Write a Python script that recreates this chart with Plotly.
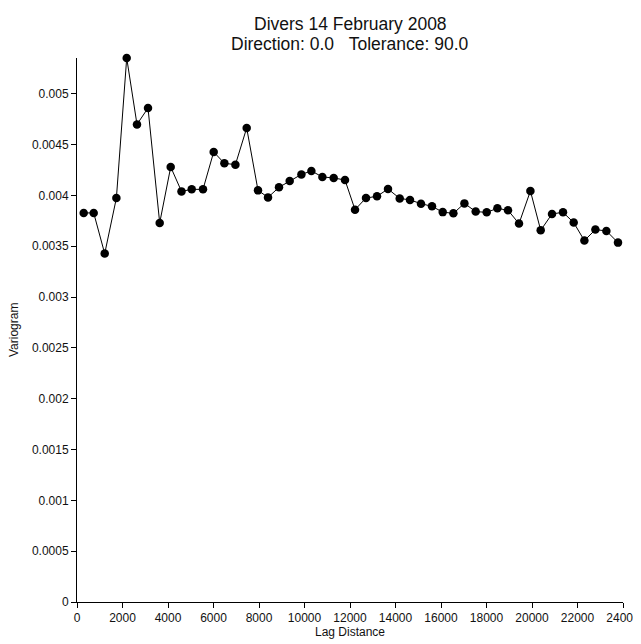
import plotly.graph_objects as go

lag = [294, 734, 1218, 1732, 2185, 2637, 3121, 3635, 4119, 4593,
       5042, 5538, 6009, 6479, 6963, 7459, 7956, 8396, 8879, 9349,
       9864, 10303, 10787, 11284, 11780, 12220, 12703, 13187, 13670, 14185,
       14637, 15121, 15604, 16075, 16545, 17029, 17525, 18009, 18479, 18945,
       19429, 19930, 20383, 20879, 21363, 21833, 22303, 22787, 23270, 23780]
variogram = [0.003827, 0.003827, 0.003427, 0.003974, 0.005351, 0.004698, 0.004859, 0.003729, 0.004279, 0.004039,
             0.004059, 0.004059, 0.004427, 0.004315, 0.004302, 0.004663, 0.004049, 0.003980, 0.004079, 0.004142,
             0.004206, 0.004240, 0.004181, 0.004171, 0.004151, 0.003859, 0.003974, 0.003990, 0.004063, 0.003970,
             0.003955, 0.003918, 0.003892, 0.003835, 0.003823, 0.003921, 0.003840, 0.003833, 0.003872, 0.003853,
             0.003722, 0.004043, 0.003656, 0.003817, 0.003833, 0.003732, 0.003555, 0.003663, 0.003650, 0.003535]

x_ticks = [0, 2000, 4000, 6000, 8000, 10000, 12000, 14000, 16000, 18000, 20000, 22000, 24000]
x_tick_labels = ["0", "2000", "4000", "6000", "8000", "10000", "12000", "14000", "16000", "18000", "20000", "22000", "24000"]
y_ticks = [0, 0.0005, 0.001, 0.0015, 0.002, 0.0025, 0.003, 0.0035, 0.004, 0.0045, 0.005]
y_tick_labels = ["0", "0.0005", "0.001", "0.0015", "0.002", "0.0025", "0.003", "0.0035", "0.004", "0.0045", "0.005"]

title_line1 = "Divers 14 February 2008"
title_line2 = "Direction: 0.0\u00a0\u00a0\u00a0Tolerance: 90.0"
x_title = "Lag Distance"
y_title = "Variogram"

font_family = "Liberation Sans, Arial, sans-serif"
text_color = "#111111"

fig = go.Figure()
fig.add_trace(go.Scatter(
    x=lag, y=variogram, mode="lines+markers",
    line=dict(color="black", width=1),
    marker=dict(color="black", size=8.5),
    cliponaxis=False,
    showlegend=False,
))

axis_common = dict(
    showgrid=False, zeroline=False, showline=True, linecolor="black", linewidth=1,
    ticks="outside", ticklen=5, tickcolor="black", tickwidth=1,
    tickfont=dict(size=12, color=text_color, family=font_family),
    automargin=False,
)

fig.update_layout(
    width=633, height=636,
    margin=dict(l=69, r=18, t=50, b=42, autoexpand=False),
    paper_bgcolor="white", plot_bgcolor="white",
    font=dict(family=font_family, color=text_color, size=12),
    xaxis=dict(range=[0, 24000], tickvals=x_ticks, ticktext=x_tick_labels,
               ticklabeloverflow="allow", **axis_common),
    yaxis=dict(range=[0, max(variogram)], tickvals=y_ticks, ticktext=y_tick_labels, **axis_common),
    annotations=[
        dict(text=title_line1, xref="paper", yref="paper", x=0.5, y=(594 - 16) / 544,
             xanchor="center", yanchor="middle", showarrow=False,
             font=dict(size=17.5, color=text_color, family=font_family)),
        dict(text=title_line2, xref="paper", yref="paper", x=0.5, y=(594 - 36) / 544,
             xanchor="center", yanchor="middle", showarrow=False,
             font=dict(size=17.5, color=text_color, family=font_family)),
        dict(text=x_title, xref="paper", yref="paper", x=0.5, y=(594 - 624) / 544,
             xanchor="center", yanchor="middle", showarrow=False,
             font=dict(size=12, color=text_color, family=font_family)),
        dict(text=y_title, xref="paper", yref="paper", x=(14 - 77) / 546, y=0.5,
             xanchor="center", yanchor="middle", textangle=-90, showarrow=False,
             font=dict(size=12, color=text_color, family=font_family)),
    ],
)

fig.write_html("out.html")
